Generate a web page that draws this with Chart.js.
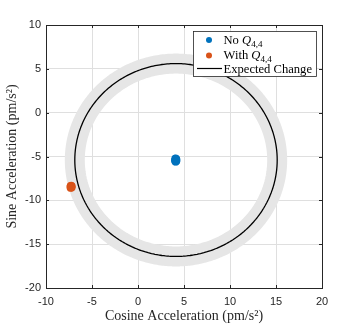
<!DOCTYPE html>
<html><head><meta charset="utf-8">
<script src="https://cdn.jsdelivr.net/npm/chart.js@4/dist/chart.umd.min.js"></script>
<style>html,body{margin:0;padding:0;background:#fff;} #wrap{width:357px;height:327px;}</style>
</head><body><div id="wrap"><canvas id="c" width="357" height="327"></canvas></div>
<script>
// ---- data ----
const xTicks = [-10, -5, 0, 5, 10, 15, 20];
const yTicks = [-20, -15, -10, -5, 0, 5, 10];
const noQ44X = [4.02, 4.10, 4.18, 4.05, 4.14, 4.22, 3.98, 4.08, 4.16, 4.04, 4.12, 4.20];
const noQ44Y = [-5.20, -5.18, -5.25, -5.35, -5.30, -5.38, -5.45, -5.50, -5.48, -5.60, -5.62, -5.55];
const withQ44X = [-7.35, -7.25, -7.18, -7.38, -7.28, -7.20, -7.36, -7.26, -7.17, -7.30];
const withQ44Y = [-8.32, -8.30, -8.36, -8.45, -8.47, -8.42, -8.58, -8.62, -8.55, -8.50];
const expectedCenter = [4.13, -5.40];
const expectedRadius = 11.0;

const BLUE = '#0072BD', ORANGE = '#D95319', AX = '#262626';

// circle outline of the expected change (geometric construction from centre & radius)
const circlePts = [];
for (let a = 0; a <= 360; a += 2) {
  const t = a * Math.PI / 180;
  circlePts.push({x: expectedCenter[0] + expectedRadius * Math.cos(t), y: expectedCenter[1] + expectedRadius * Math.sin(t)});
}

const boxPlugin = {
  id: 'box',
  afterDatasetsDraw(chart) {
    const c = chart.ctx, a = chart.chartArea;
    c.save();
    c.strokeStyle = AX; c.lineWidth = 1;
    c.strokeRect(Math.round(a.left) + 0.5, Math.round(a.top) + 0.5, Math.round(a.right - a.left), Math.round(a.bottom - a.top));
    const xs = chart.scales.x, ys = chart.scales.y, L = 3;
    c.beginPath();
    xTicks.forEach(v => { const p = Math.round(xs.getPixelForValue(v)) + 0.5;
      c.moveTo(p, a.bottom); c.lineTo(p, a.bottom - L); c.moveTo(p, a.top); c.lineTo(p, a.top + L); });
    yTicks.forEach(v => { const p = Math.round(ys.getPixelForValue(v)) + 0.5;
      c.moveTo(a.left, p); c.lineTo(a.left + L, p); c.moveTo(a.right, p); c.lineTo(a.right - L, p); });
    c.stroke();
    c.restore();
  },
  afterDraw(chart) {
    const c = chart.ctx;
    c.save();
    const bx = 193.5, by = 31.5, bw = 123, bh = 45;
    c.fillStyle = '#fff'; c.fillRect(bx, by, bw, bh);
    c.strokeStyle = AX; c.lineWidth = 0.8; c.strokeRect(bx, by, bw, bh);
    const dot = (x, y, col) => { c.beginPath(); c.arc(x, y, 3, 0, Math.PI * 2); c.fillStyle = col; c.fill(); };
    dot(209, 40, BLUE);
    dot(209, 55.5, ORANGE);
    c.beginPath(); c.moveTo(197, 68.5); c.lineTo(222, 68.5); c.strokeStyle = '#000'; c.lineWidth = 1.2; c.stroke();
    const serif = '"Liberation Serif", "Times New Roman", serif';
    const rich = (x, y, parts) => {
      c.fillStyle = '#000'; c.textBaseline = 'alphabetic'; c.textAlign = 'left';
      parts.forEach(p => {
        c.font = (p.it ? 'italic ' : '') + (p.sub ? '9px ' : '12.6px ') + serif;
        c.fillText(p.t, x, y + (p.sub ? 3 : 0));
        x += c.measureText(p.t).width;
      });
    };
    rich(223.5, 44, [{t: 'No '}, {t: 'Q', it: true}, {t: '4,4', sub: true}]);
    rich(223.5, 59, [{t: 'With '}, {t: 'Q', it: true}, {t: '4,4', sub: true}]);
    rich(223.5, 72.5, [{t: 'Expected Change'}]);
    c.restore();
  }
};

const tickFont = {family: '"Liberation Sans", Arial, sans-serif', size: 11};
const titleFont = {family: '"Liberation Serif", "Times New Roman", serif', size: 14};

new Chart(document.getElementById('c'), {
  type: 'scatter',
  data: {
    datasets: [
      {label: 'No Q4,4', data: noQ44X.map((x, i) => ({x, y: noQ44Y[i]})), backgroundColor: BLUE, borderColor: BLUE, borderWidth: 0, pointRadius: 3.6, order: 0},
      {label: 'With Q4,4', data: withQ44X.map((x, i) => ({x, y: withQ44Y[i]})), backgroundColor: ORANGE, borderColor: ORANGE, borderWidth: 0, pointRadius: 3.6, order: 0},
      {label: 'Expected Change', data: circlePts, showLine: true, tension: 0.05, borderColor: '#000', borderWidth: 1.3, borderJoinStyle: 'round', pointRadius: 0, order: 1},
      {label: 'band', data: circlePts, showLine: true, tension: 0.05, borderColor: '#e6e6e6', borderWidth: 20, borderJoinStyle: 'round', borderCapStyle: 'round', pointRadius: 0, order: 2}
    ]
  },
  options: {
    responsive: false, animation: false, events: [],
    layout: {padding: {top: 25, right: 35, left: 0, bottom: 0}},
    plugins: {legend: {display: false}, tooltip: {enabled: false}},
    scales: {
      x: {
        type: 'linear', min: -10, max: 20,
        afterBuildTicks: s => { s.ticks = xTicks.map(v => ({value: v})); },
        afterFit: s => { s.height = 39; },
        grid: {color: '#dfdfdf', drawTicks: false},
        border: {color: AX},
        ticks: {padding: 7, font: tickFont, color: AX, maxRotation: 0},
        title: {display: true, text: 'Cosine Acceleration (pm/s²)', font: titleFont, color: AX, padding: {top: 0, bottom: 2}}
      },
      y: {
        type: 'linear', min: -20, max: 10,
        afterBuildTicks: s => { s.ticks = yTicks.map(v => ({value: v})); },
        afterFit: s => { s.width = 46; },
        grid: {color: '#dfdfdf', drawTicks: false},
        border: {color: AX},
        ticks: {padding: 5, font: tickFont, color: AX},
        title: {display: true, text: 'Sine Acceleration (pm/s²)', font: titleFont, color: AX, padding: {top: 4, bottom: 0}}
      }
    }
  },
  plugins: [boxPlugin]
});
</script>
</body></html>
